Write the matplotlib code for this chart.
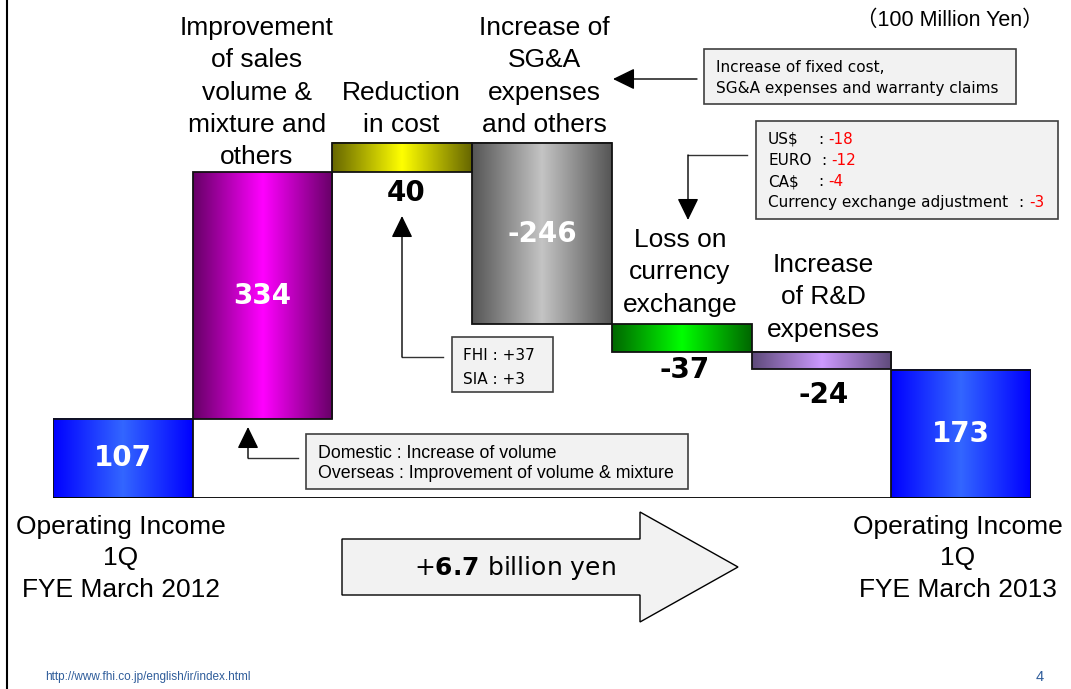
import matplotlib
matplotlib.use("Agg")
import matplotlib.pyplot as plt
import numpy as np
from matplotlib.colors import LinearSegmentedColormap
from matplotlib.patches import Rectangle, Polygon

W, H = 1071, 689
PX_PER_UNIT = 0.737
BASE_Y = 497.5

# --- data -------------------------------------------------------------
steps = [
    "Operating Income\n1Q\nFYE March 2012",
    "Improvement\nof sales\nvolume &\nmixture and\nothers",
    "Reduction\nin cost",
    "Increase of\nSG&A\nexpenses\nand others",
    "Loss on\ncurrency\nexchange",
    "Increase\nof R&D\nexpenses",
    "Operating Income\n1Q\nFYE March 2013",
]
values = [107, 334, 40, -246, -37, -24, 173]
value_labels = ["107", "334", "40", "-246", "-37", "-24", "173"]
is_total = [True, False, False, False, False, False, True]
edge_colors = ["#0000FF", "#660066", "#666600", "#555555", "#006600", "#5E4A7A", "#0000FF"]
center_colors = ["#3366FF", "#FF00FF", "#FFFF00", "#C4C4C4", "#00FF00", "#CC99FF", "#3366FF"]

# where the step names sit (pixel centre of first line, line pitch)
label_pos = [(121, 527, 31.5), (257, 28, 32.3), (401, 93, 32.3), (544, 28, 32.3),
             (680, 240, 32.3), (823, 265, 32.3), (958, 527, 31.5)]
# black labels below small bars: pixel offset from bar bottom
below_offset = {2: (4, 21), 4: (3, 18), 5: (2, 26)}

# --- waterfall geometry ----------------------------------------------
bottoms, heights = [], []
running = 0
for v, tot in zip(values, is_total):
    if tot:
        bottoms.append(0)
        heights.append(v)
        running = v
    else:
        bottoms.append(running + min(v, 0))
        heights.append(abs(v))
        running += v

fig = plt.figure(figsize=(W / 100, H / 100), dpi=100)
fig.patch.set_facecolor("white")

ymax = 600
ax = fig.add_axes([53 / W, (H - BASE_Y) / H, 978 / W, ymax * PX_PER_UNIT / H])
grad = np.linspace(0, 1, 256).reshape(1, -1)
for i, (b, h) in enumerate(zip(bottoms, heights)):
    cmap = LinearSegmentedColormap.from_list(f"g{i}", [edge_colors[i], center_colors[i], edge_colors[i]])
    ax.imshow(grad, cmap=cmap, extent=[i - 0.5, i + 0.5, b, b + h], aspect="auto", zorder=2,
              interpolation="bilinear")
ax.bar(range(len(values)), heights, bottom=bottoms, width=1.0, facecolor="none",
       edgecolor="#111111", linewidth=1.3, zorder=3)
ax.plot([-0.5, len(values) - 0.5], [0, 0], color="black", lw=1.3, zorder=4)
ax.set_xlim(-0.5, len(values) - 0.5)
ax.set_ylim(0, ymax)
ax.axis("off")

for i, (b, h) in enumerate(zip(bottoms, heights)):
    if i in below_offset:
        dx, dy = below_offset[i]
        ax.annotate(value_labels[i], xy=(i, b), xytext=(dx, -dy), textcoords="offset pixels",
                    ha="center", va="center", fontsize=20, fontweight="bold",
                    family="DejaVu Sans", color="black", zorder=5)
    else:
        ax.text(i, b + h / 2, value_labels[i], ha="center", va="center", fontsize=20,
                fontweight="bold", family="DejaVu Sans", color="white", zorder=5)

# --- overlay in pixel coordinates for slide decorations --------------
ov = fig.add_axes([0, 0, 1, 1])
ov.set_xlim(0, W)
ov.set_ylim(H, 0)
ov.axis("off")

ov.plot([7, 7], [0, H], color="black", lw=1.5)

for (x, y0, pitch), name in zip(label_pos, steps):
    for k, line in enumerate(name.split("\n")):
        ov.text(x, y0 + k * pitch, line, ha="center", va="center", fontsize=19,
                family="Liberation Sans", color="black")

ov.text(950, 20, "（100 Million Yen）", ha="center", va="center", fontsize=15.5,
        family=["Liberation Sans", "Noto Sans CJK JP"])

BOX_FC, BOX_EC = "#F2F2F2", "#404040"
ARROW = dict(arrowstyle="-|>,head_length=0.45,head_width=0.22", mutation_scale=30,
             color="black", lw=1.0, shrinkA=0, shrinkB=0)


def box(x0, y0, x1, y1):
    ov.add_patch(Rectangle((x0, y0), x1 - x0, y1 - y0, facecolor=BOX_FC,
                           edgecolor=BOX_EC, lw=1.2, zorder=6))


# SG&A note
box(704, 49, 1016, 104)
ov.text(716, 67, "Increase of fixed cost,", va="center", fontsize=11, zorder=7)
ov.text(716, 89, "SG&A expenses and warranty claims", va="center", fontsize=11, zorder=7)
ov.annotate("", xy=(613, 79), xytext=(697, 79), arrowprops=ARROW)

# currency note
box(756, 121, 1058, 219)
fx_rows = [("US$", 818, "-18", 828), ("EURO", 821, "-12", 831), ("CA$", 818, "-4", 828),
           ("Currency exchange adjustment", 1018, "-3", 1029)]
for k, (name, cx, num, nx) in enumerate(fx_rows):
    y = 139 + k * 21.3
    ov.text(768, y, name, va="center", fontsize=11, zorder=7)
    ov.text(cx, y, ":", va="center", fontsize=11, zorder=7)
    ov.text(nx, y, num, va="center", fontsize=11, color="red", zorder=7)
ov.plot([747, 688], [155, 155], color="#333333", lw=1.0)
ov.annotate("", xy=(688, 220), xytext=(688, 155), arrowprops=ARROW)

# cost reduction note
box(452, 337, 553, 392)
ov.text(463, 355, "FHI : +37", va="center", fontsize=11, zorder=7)
ov.text(463, 379, "SIA : +3", va="center", fontsize=11, zorder=7)
ov.plot([443, 402], [357, 357], color="#333333", lw=1.0)
ov.annotate("", xy=(402, 216), xytext=(402, 357), arrowprops=ARROW)

# volume note
box(306, 434, 688, 489)
ov.text(318, 453, "Domestic : Increase of volume", va="center", fontsize=12.8,
        family="Liberation Sans", zorder=7)
ov.text(318, 473, "Overseas : Improvement of volume & mixture", va="center", fontsize=12.8,
        family="Liberation Sans", zorder=7)
ov.plot([298, 248], [458, 458], color="#333333", lw=1.0)
ov.annotate("", xy=(248, 427), xytext=(248, 458), arrowprops=ARROW)

# big arrow with total change
ov.add_patch(Polygon([(342, 539), (640, 539), (640, 512), (738, 567), (640, 622),
                      (640, 595), (342, 595)], closed=True, facecolor="#F2F2F2",
                     edgecolor="black", lw=1.0))
ov.text(515, 568, r"+$\mathbf{6.7}$ billion yen", ha="center", va="center", fontsize=18,
        family="DejaVu Sans")

# footer
ov.text(45, 677, "http://www.fhi.co.jp/english/ir/index.html", va="center", fontsize=8.5,
        family="Liberation Sans", color="#2E5C9A")
ov.text(1040, 677, "4", ha="center", va="center", fontsize=10.5,
        family="Liberation Sans", color="#2E5C9A")

fig.savefig("out.png", dpi=100)
